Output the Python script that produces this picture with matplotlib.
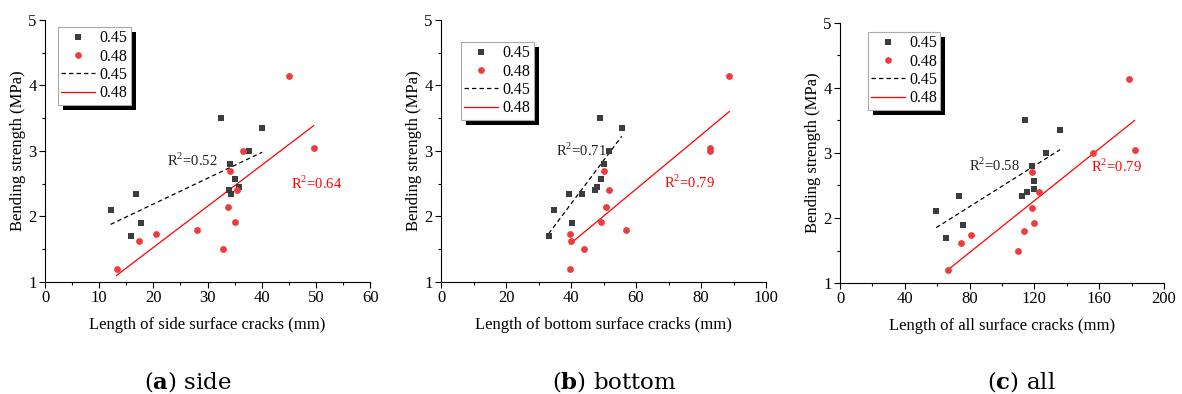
import matplotlib
matplotlib.use("Agg")
import matplotlib.pyplot as plt
from matplotlib.lines import Line2D
from matplotlib.patches import Rectangle
import numpy as np

plt.rcParams['font.family'] = ['Liberation Serif', 'DejaVu Serif']
plt.rcParams['mathtext.fontset'] = 'custom'
plt.rcParams['mathtext.rm'] = 'Liberation Serif'
plt.rcParams['mathtext.bf'] = 'Liberation Serif:bold'

# bending strength (MPa), same specimens in every panel
y45 = [2.10, 2.34, 1.70, 1.90, 3.50, 2.80, 2.40, 2.34, 2.57, 2.45, 3.00, 3.35]
y48 = [1.20, 1.62, 1.74, 1.80, 1.50, 2.15, 2.70, 1.92, 2.40, 3.00, 4.14, 3.05]

# crack lengths (mm)
side45 = [12.1, 16.8, 15.9, 17.7, 32.4, 34.2, 33.9, 34.3, 35.1, 35.8, 37.6, 40.1]
side48 = [13.2, 17.3, 20.4, 28.1, 32.9, 33.7, 34.2, 35.1, 35.4, 36.6, 45.0, 49.6]
bot45 = [34.9, 39.4, 33.1, 40.4, 49.0, 50.2, 47.4, 43.5, 49.2, 48.1, 51.8, 55.6]
bot48 = [39.7, 40.0, 39.7, 56.9, 43.9, 50.8, 50.2, 49.2, 51.8, 82.8, 88.7, 82.8]
all45 = [59.4, 73.4, 65.2, 76.1, 114.1, 118.6, 115.5, 112.4, 119.8, 119.8, 127.2, 135.9]
all48 = [66.4, 74.6, 80.8, 113.5, 109.8, 118.4, 118.6, 119.8, 122.7, 156.0, 178.4, 181.9]

r2_45 = ["0.52", "0.71", "0.58"]
r2_48 = ["0.64", "0.79", "0.79"]
xlabels = ["Length of side surface cracks (mm)",
           "Length of bottom surface cracks (mm)",
           "Length of all surface cracks (mm)"]
captions = [r"($\mathbf{a}$) side", r"($\mathbf{b}$) bottom", r"($\mathbf{c}$) all"]
xlims = [60, 100, 200]
xsteps = [10, 20, 40]

C45 = '#3d3d3d'
C48 = '#ef3b3b'

fig = plt.figure(figsize=(11.82, 3.94), dpi=100)
axpos = [[0.0381, 0.2843, 0.275, 0.665],
         [0.3731, 0.2843, 0.275, 0.665],
         [0.7107, 0.2817, 0.274, 0.660]]
legpos = [(0.04, 0.973), (0.062, 0.916), (0.086, 0.965)]
r2pos45 = [(22.5, 2.77), (35.5, 2.93), (79.7, 2.73)]
r2pos48 = [(45.4, 2.42), (68.5, 2.43), (155.2, 2.70)]
capx = [188 / 1182, 614 / 1182, 1021 / 1182]

data = [(side45, side48), (bot45, bot48), (all45, all48)]
legends = []

for i in range(3):
    ax = fig.add_axes(axpos[i])
    ax.patch.set_visible(False)
    x45, x48 = np.array(data[i][0]), np.array(data[i][1])
    ax.scatter(x45, y45, marker='s', s=15, color=C45, lw=0, zorder=3)
    ax.scatter(x48, y48, marker='o', s=24, color=C48, lw=0, zorder=3)

    # linear fits
    p = np.polyfit(x45, y45, 1)
    xx = np.array([x45.min(), x45.max()])
    ax.plot(xx, np.polyval(p, xx), '--', color='black', lw=0.9, dashes=(3.5, 2.5))
    p = np.polyfit(x48, y48, 1)
    xx = np.array([x48.min(), x48.max()])
    ax.plot(xx, np.polyval(p, xx), '-', color='red', lw=0.9)

    ax.text(*r2pos45[i], r"R$^2$=" + r2_45[i], fontsize=10.5, color='#222222')
    ax.text(*r2pos48[i], r"R$^2$=" + r2_48[i], fontsize=10.5, color='red')

    ax.set_xlim(0, xlims[i])
    ax.set_ylim(1, 5)
    ax.set_xticks(np.arange(0, xlims[i] + 1, xsteps[i]))
    ax.set_xticks(np.arange(xsteps[i] / 2, xlims[i], xsteps[i]), minor=True)
    ax.set_yticks([1, 2, 3, 4, 5])
    ax.set_yticks([1.5, 2.5, 3.5, 4.5], minor=True)
    ax.tick_params(which='major', direction='out', length=4, width=0.8, labelsize=12, pad=2)
    ax.tick_params(which='minor', direction='out', length=2, width=0.8)
    ax.spines['top'].set_visible(False)
    ax.spines['right'].set_visible(False)
    ax.set_xlabel(xlabels[i], fontsize=12, labelpad=8)
    ax.set_ylabel("Bending strength (MPa)", fontsize=12, labelpad=2)

    handles = [Line2D([], [], ls='', marker='s', ms=3.8, color=C45, mew=0),
               Line2D([], [], ls='', marker='o', ms=4.8, color=C48, mew=0),
               Line2D([], [], ls='--', dashes=(3.5, 2.5), color='black', lw=0.9),
               Line2D([], [], ls='-', color='red', lw=0.9)]
    leg = ax.legend(handles, ['0.45', '0.48', '0.45', '0.48'], loc='upper left',
                    bbox_to_anchor=legpos[i], fontsize=11.5, fancybox=False,
                    framealpha=1, edgecolor='#aaaaaa', handlelength=2.1,
                    handletextpad=0.3, borderpad=0.2, labelspacing=0.15,
                    borderaxespad=0)
    leg.get_frame().set_linewidth(0.8)
    legends.append(leg)

    fig.text(capx[i], 1 - 381 / 394, captions[i], ha='center', va='center',
             fontsize=16.5, family='DejaVu Serif', math_fontfamily='dejavuserif')

# black drop shadow behind each legend box
fig.canvas.draw()
for leg in legends:
    bb = leg.get_window_extent()
    fig.patches.append(Rectangle((bb.x0 + 5, bb.y0 - 5), bb.width, bb.height,
                                 transform=None, facecolor='black', edgecolor='none',
                                 zorder=-1, figure=fig))

fig.savefig("out.png", dpi=100)
